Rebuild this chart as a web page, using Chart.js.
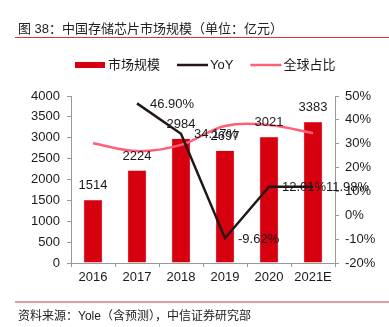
<!DOCTYPE html>
<html><head><meta charset="utf-8">
<script src="https://cdn.jsdelivr.net/npm/chart.js@4"></script>
<style>
html,body{margin:0;padding:0;background:#fff;width:389px;height:327px;overflow:hidden;font-family:"Liberation Sans","Noto Sans CJK SC",sans-serif}
#title{position:absolute;left:18px;top:18px;font-size:13px;color:#222;white-space:nowrap;font-family:"Liberation Sans","Noto Sans CJK SC",sans-serif}
#tline{position:absolute;left:15px;top:37px;width:374px;height:1px;background:#c83c3c}
#bline{position:absolute;left:15px;top:301px;width:374px;height:2px;background:#e39a9a}
#foot{position:absolute;left:18px;top:306px;font-size:12px;color:#222;white-space:nowrap}
#wrap{position:absolute;left:0;top:0;width:389px;height:327px}
</style></head>
<body>
<div id="wrap"><canvas id="c" width="389" height="327"></canvas></div>
<div id="title">图 38：中国存储芯片市场规模（单位：亿元）</div>
<div id="tline"></div>
<div id="bline"></div>
<div id="foot">资料来源：Yole（含预测），中信证券研究部</div>
<script>
const categories = ['2016','2017','2018','2019','2020','2021E'];
const marketSize = [1514, 2224, 2984, 2697, 3021, 3383];
const yoy = [null, 46.90, 34.17, -9.62, 12.01, 11.98];
const globalShare = [30.2, 26.9, 29.5, 37.4, 37.8, 34.4];
const leftTicks = [0, 500, 1000, 1500, 2000, 2500, 3000, 3500, 4000];
const rightTicks = [-20, -10, 0, 10, 20, 30, 40, 50];

const FONT = '"Liberation Sans","Noto Sans CJK SC",sans-serif';
const RED = '#d7000f';
const BLACK = '#231815';
const PINK = '#ff5f78';

const labelPlugin = {
  id: 'valueLabels',
  afterDatasetsDraw(chart) {
    const ctx = chart.ctx;
    ctx.save();
    ctx.font = '13px ' + FONT;
    ctx.fillStyle = '#1a1a1a';
    const barMeta = chart.getDatasetMeta(0);
    ctx.textAlign = 'center';
    ctx.textBaseline = 'middle';
    barMeta.data.forEach((el, i) => {
      ctx.fillText(String(marketSize[i]), el.x, el.y - 14);
    });
    const lineMeta = chart.getDatasetMeta(1);
    ctx.textAlign = 'left';
    lineMeta.data.forEach((el, i) => {
      if (yoy[i] === null) return;
      ctx.fillText(yoy[i].toFixed(2) + '%', el.x + 13, el.y + 1);
    });
    ctx.restore();
  },
  afterDraw(chart) {
    // legend drawn from the dataset definitions
    const ctx = chart.ctx;
    ctx.save();
    ctx.font = '13px ' + FONT;
    ctx.textBaseline = 'middle';
    ctx.textAlign = 'left';
    let x = 75;
    const y = 65;
    chart.data.datasets.forEach(ds => {
      if (ds.type === 'bar') {
        ctx.fillStyle = ds.backgroundColor;
        ctx.fillRect(x, y - 3, 30, 6);
      } else {
        ctx.strokeStyle = ds.borderColor;
        ctx.lineWidth = 2.5;
        ctx.beginPath();
        ctx.moveTo(x, y);
        ctx.lineTo(x + 31, y);
        ctx.stroke();
      }
      x += 33;
      ctx.fillStyle = '#1a1a1a';
      ctx.fillText(ds.label, x, y + 0.5);
      x += ctx.measureText(ds.label).width + 17;
    });
    ctx.restore();
  }
};

new Chart(document.getElementById('c'), {
  data: {
    labels: categories,
    datasets: [
      { type: 'bar', label: '市场规模', data: marketSize, yAxisID: 'y', backgroundColor: RED,
        borderColor: '#f4a0a8', borderWidth: 0.5, categoryPercentage: 0.85, barPercentage: 0.5, order: 3 },
      { type: 'line', label: 'YoY', data: yoy, yAxisID: 'y1', borderColor: BLACK, backgroundColor: BLACK,
        borderWidth: 2.5, pointRadius: 0, tension: 0, order: 1 },
      { type: 'line', label: '全球占比', data: globalShare, yAxisID: 'y1', borderColor: PINK, backgroundColor: PINK,
        borderWidth: 2.5, pointRadius: 0, tension: 0.35, order: 2 }
    ]
  },
  options: {
    responsive: false,
    animation: false,
    layout: { padding: { top: 96, bottom: 38, left: 0, right: 0 } },
    plugins: {
      title: { display: false },
      tooltip: { enabled: false },
      legend: { display: false }
    },
    scales: {
      x: {
        type: 'category',
        offset: true,
        grid: { display: true, drawOnChartArea: false, offset: true, tickLength: 4, color: '#999' },
        border: { color: '#999' },
        ticks: { font: { size: 13, family: FONT }, color: '#1a1a1a', padding: 3, maxRotation: 0 },
        afterFit(s) { s.height = 26; }
      },
      y: {
        type: 'linear', position: 'left', min: 0, max: 4000,
        afterBuildTicks(s) { s.ticks = leftTicks.map(v => ({ value: v })); },
        grid: { drawOnChartArea: false, tickLength: 4, color: '#999' },
        border: { color: '#999' },
        ticks: { font: { size: 13, family: FONT }, color: '#1a1a1a', padding: 7, callback: v => String(v) },
        afterFit(s) { s.width = 71; }
      },
      y1: {
        type: 'linear', position: 'right', min: -20, max: 50,
        afterBuildTicks(s) { s.ticks = rightTicks.map(v => ({ value: v })); },
        grid: { drawOnChartArea: false, tickLength: 4, color: '#999' },
        border: { color: '#999' },
        ticks: { font: { size: 13, family: FONT }, color: '#1a1a1a', padding: 6, callback: v => v + '%' },
        afterFit(s) { s.width = 54; }
      }
    }
  },
  plugins: [labelPlugin]
});
</script>
</body></html>
